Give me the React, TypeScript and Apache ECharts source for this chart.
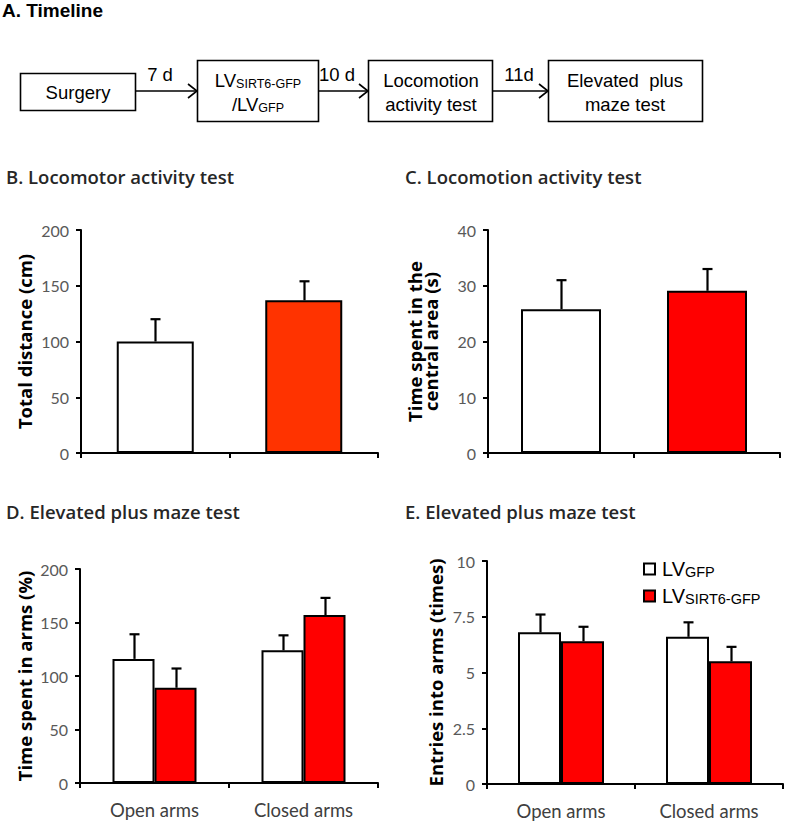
import React, { useEffect, useRef } from "react";
import * as echarts from "echarts";

// ---- Data ----
const groupNames = ["LVGFP", "LVSIRT6-GFP"];
const armCategories = ["Open arms", "Closed arms"];

// B. Locomotor activity test: total distance (cm)
const distanceMeans = [100, 137];
const distanceErrs = [20, 17];

// C. Locomotion activity test: time in central area (s)
const centralMeans = [25.8, 29.1];
const centralErrs = [5.2, 3.9];

// D. Elevated plus maze: time spent in arms (%)
const timeGfp = [116, 124];
const timeGfpErr = [23, 14];
const timeSirt = [89, 157];
const timeSirtErr = [18, 16];

// E. Elevated plus maze: entries into arms (times)
const entriesGfp = [6.8, 6.6];
const entriesGfpErr = [0.8, 0.65];
const entriesSirt = [6.4, 5.5];
const entriesSirtErr = [0.65, 0.65];

const yTicksB = [0, 50, 100, 150, 200];
const yTicksC = [0, 10, 20, 30, 40];
const yTicksD = [0, 50, 100, 150, 200];
const yTicksE = [0, 2.5, 5, 7.5, 10];

const WHITE = "#ffffff";
const RED_B = "#ff3300";
const RED = "#ff0000";

const tickFont = "Lato, 'Noto Sans', sans-serif";
const boldFont = "'Open Sans', 'Noto Sans', sans-serif";
const arialFont = "'Liberation Sans', Arial, sans-serif";

function errSeries(xi: number, yi: number, means: number[], errs: number[], offset: number) {
  return {
    type: "custom",
    xAxisIndex: xi,
    yAxisIndex: yi,
    z: 5,
    silent: true,
    encode: { x: 0, y: [1, 2] },
    data: means.map((m, i) => [i, m, m + errs[i]]),
    renderItem: (params: any, api: any) => {
      const x = api.value(0);
      const p0 = api.coord([x, api.value(1)]);
      const p1 = api.coord([x, api.value(2)]);
      const cx = Math.round(p0[0] + offset) + 0.5;
      return {
        type: "group",
        children: [
          { type: "line", shape: { x1: cx, y1: p0[1], x2: cx, y2: p1[1] }, style: { stroke: "#000", lineWidth: 2.2 } },
          { type: "line", shape: { x1: cx - 5, y1: p1[1], x2: cx + 5, y2: p1[1] }, style: { stroke: "#000", lineWidth: 2.2 } },
        ],
      };
    },
  };
}

function yAxisCfg(gi: number, ticks: number[], name: string, nameGap: number) {
  const interval = ticks[1] - ticks[0];
  return {
    type: "value",
    gridIndex: gi,
    min: ticks[0],
    max: ticks[ticks.length - 1],
    interval,
    name,
    nameLocation: "middle",
    nameGap,
    nameRotate: 90,
    nameTextStyle: { fontFamily: boldFont, fontWeight: "bold", fontSize: 18.5, color: "#000", lineHeight: 16 },
    axisLine: { show: true, lineStyle: { color: "#000", width: 2 } },
    axisTick: { show: true, length: 5, lineStyle: { color: "#000", width: 2 } },
    axisLabel: { color: "#595959", fontFamily: tickFont, fontSize: 16, margin: 12 },
    splitLine: { show: false },
  };
}

function xAxisCfg(gi: number, cats: string[], showLabels: boolean) {
  return {
    type: "category",
    gridIndex: gi,
    data: cats,
    axisLine: { show: true, lineStyle: { color: "#000", width: 2 } },
    axisTick: { show: true, length: 5, lineStyle: { color: "#000", width: 2 } },
    axisLabel: { show: showLabels, color: "#404040", fontFamily: tickFont, fontSize: 18.5, margin: 17 },
    splitLine: { show: false },
  };
}

const barBorder = { borderColor: "#000", borderWidth: 2 };

export default function App() {
  const ref = useRef<HTMLDivElement>(null);
  useEffect(() => {
    if (!ref.current) return;
    const chart = echarts.init(ref.current, null, { renderer: "svg" });

    const timelineRich = {
      s: { fontFamily: arialFont, fontSize: 12.5, verticalAlign: "bottom", padding: [8, 0, 0, 0] },
    };

    const tl = (text: string, x: number, y: number, rich?: any) => ({
      type: "text",
      x,
      y,
      style: {
        text,
        x: 0,
        y: 0,
        align: "center",
        verticalAlign: "middle",
        font: `18.5px ${arialFont}`,
        fill: "#000",
        rich,
      },
    });

    const box = (x1: number, y1: number, x2: number, y2: number) => ({
      type: "rect",
      shape: { x: x1 + 0.5, y: y1 + 0.5, width: x2 - x1, height: y2 - y1 },
      style: { fill: "#fff", stroke: "#000", lineWidth: 1.6 },
    });

    const arrow = (x1: number, x2: number, y: number) => ({
      type: "group",
      children: [
        { type: "line", shape: { x1, y1: y, x2, y2: y }, style: { stroke: "#000", lineWidth: 1.6 } },
        {
          type: "polyline",
          shape: { points: [[x2 - 9, y - 7], [x2, y], [x2 - 9, y + 7]] },
          style: { stroke: "#000", lineWidth: 1.6, fill: null },
        },
      ],
    });

    const titleStyle = { fontFamily: boldFont, fontSize: 18.5, fontWeight: 600, color: "#262626" };

    const option: any = {
      animation: false,
      backgroundColor: "#fff",
      title: [
        { text: "B. Locomotor activity test", left: 1, top: 162, textStyle: titleStyle },
        { text: "C. Locomotion activity test", left: 400, top: 162, textStyle: titleStyle },
        { text: "D. Elevated plus maze test", left: 1, top: 497, textStyle: titleStyle },
        { text: "E. Elevated plus maze test", left: 400, top: 497, textStyle: titleStyle },
      ],
      legend: {
        orient: "vertical",
        left: 638,
        top: 552,
        itemWidth: 11,
        itemHeight: 11,
        itemGap: 5,
        icon: "rect",
        data: ["GFP", "SIRT6"],
        formatter: (n: string) => (n === "GFP" ? "LV{s|GFP}" : "LV{s|SIRT6-GFP}"),
        textStyle: {
          fontFamily: arialFont,
          fontSize: 20,
          color: "#000",
          lineHeight: 20,
          padding: [0, 0, 0, 2],
          rich: {
            s: { fontFamily: arialFont, fontSize: 14.5, lineHeight: 20, verticalAlign: "bottom", padding: [7, 0, 0, 0] },
          },
        },
      },
      grid: [
        { left: 81, top: 230, width: 297, height: 223 },
        { left: 488, top: 230, width: 292, height: 223 },
        { left: 80, top: 569, width: 298, height: 214 },
        { left: 487, top: 561, width: 296, height: 223 },
      ],
      xAxis: [
        xAxisCfg(0, groupNames, false),
        xAxisCfg(1, groupNames, false),
        xAxisCfg(2, armCategories, true),
        xAxisCfg(3, armCategories, true),
      ],
      yAxis: [
        yAxisCfg(0, yTicksB, "Total distance (cm)", 49),
        yAxisCfg(1, yTicksC, "Time spent in the\ncentral area (s)", 50),
        yAxisCfg(2, yTicksD, "Time spent in arms (%)", 48),
        yAxisCfg(3, yTicksE, "Entries into arms (times)", 44),
      ],
      series: [
        {
          type: "bar",
          name: "distance",
          xAxisIndex: 0,
          yAxisIndex: 0,
          barWidth: 77,
          data: distanceMeans.map((v, i) => ({ value: v, itemStyle: { color: i === 0 ? WHITE : RED_B, ...barBorder } })),
        },
        errSeries(0, 0, distanceMeans, distanceErrs, 0),
        {
          type: "bar",
          name: "central",
          xAxisIndex: 1,
          yAxisIndex: 1,
          barWidth: 80,
          data: centralMeans.map((v, i) => ({ value: v, itemStyle: { color: i === 0 ? WHITE : RED, ...barBorder } })),
        },
        errSeries(1, 1, centralMeans, centralErrs, 0),
        {
          type: "bar",
          name: "GFP",
          xAxisIndex: 2,
          yAxisIndex: 2,
          barWidth: 42,
          barGap: "0%",
          itemStyle: { color: WHITE, ...barBorder },
          data: timeGfp,
        },
        {
          type: "bar",
          name: "SIRT6",
          xAxisIndex: 2,
          yAxisIndex: 2,
          barWidth: 42,
          barGap: "0%",
          itemStyle: { color: RED, ...barBorder },
          data: timeSirt,
        },
        errSeries(2, 2, timeGfp, timeGfpErr, -21),
        errSeries(2, 2, timeSirt, timeSirtErr, 21),
        {
          type: "bar",
          name: "GFP",
          xAxisIndex: 3,
          yAxisIndex: 3,
          barWidth: 43,
          barGap: "0%",
          itemStyle: { color: WHITE, ...barBorder },
          data: entriesGfp,
        },
        {
          type: "bar",
          name: "SIRT6",
          xAxisIndex: 3,
          yAxisIndex: 3,
          barWidth: 43,
          barGap: "0%",
          itemStyle: { color: RED, ...barBorder },
          data: entriesSirt,
        },
        errSeries(3, 3, entriesGfp, entriesGfpErr, -21.5),
        errSeries(3, 3, entriesSirt, entriesSirtErr, 21.5),
      ],
      graphic: [
        {
          type: "text",
          x: 2,
          y: 1,
          style: { text: "A. Timeline", x: 0, y: 0, font: `bold 19px ${arialFont}`, fill: "#000", verticalAlign: "top" },
        },
        box(20, 73, 135, 110),
        tl("Surgery", 78, 92),
        arrow(135, 197, 91),
        tl("7 d", 160, 74),
        box(197, 60, 318, 121),
        tl("LV{s|SIRT6-GFP}", 258, 80, timelineRich),
        tl("/LV{s|GFP}", 258, 104, timelineRich),
        arrow(318, 368, 91),
        tl("10 d", 337, 74),
        box(368, 60, 492, 121),
        tl("Locomotion", 431, 80),
        tl("activity test", 431, 104),
        arrow(492, 548, 91),
        tl("11d", 519, 74),
        box(548, 60, 702, 121),
        tl("Elevated  plus", 625, 80),
        tl("maze test", 625, 104),
      ],
    };
    chart.setOption(option);
    return () => chart.dispose();
  }, []);
  return <div ref={ref} style={{ position: "absolute", left: 0, top: 0, width: 787, height: 824 }} />;
}
